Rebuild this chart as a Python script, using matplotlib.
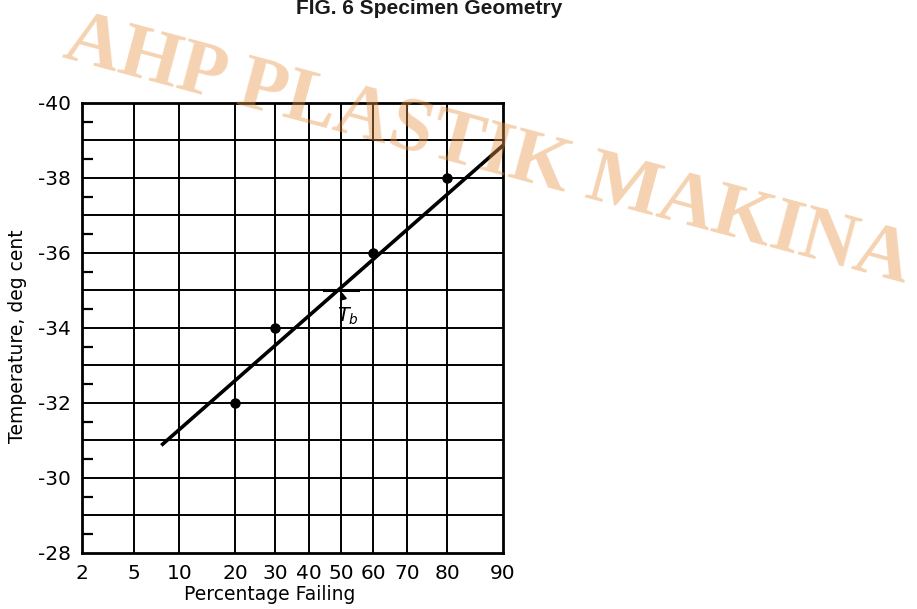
import numpy as np
import matplotlib
matplotlib.use("Agg")
import matplotlib.pyplot as plt
from statistics import NormalDist

# ---- data ----
pct_ticks = [2, 5, 10, 20, 30, 40, 50, 60, 70, 80, 90]
pct_tick_labels = ["2", "5", "10", "20", "30", "40", "50", "60", "70", "80", "90"]
temp_ticks = [-40, -38, -36, -34, -32, -30, -28]
temp_tick_labels = ["-40", "-38", "-36", "-34", "-32", "-30", "-28"]
points_pct = [20, 30, 60, 80]
points_temp = [-32, -34, -36, -38]
fit_pct = [7.7, 90]
fit_temp = [-30.87, -38.87]
tb_pct = 50
tb_temp = -35
tb_bar_pct = [44.6, 55.4]

nd = NormalDist()
_inv_cdf = np.vectorize(nd.inv_cdf, otypes=[float])
_cdf = np.vectorize(nd.cdf, otypes=[float])

def fwd(p):
    p = np.asarray(p, dtype=float)
    q = np.clip(p / 100.0, 1e-6, 1 - 1e-6)
    return _inv_cdf(q)

def inv(z):
    z = np.asarray(z, dtype=float)
    return _cdf(z) * 100.0

fig = plt.figure(figsize=(9.17, 6.09), dpi=100)
ax = fig.add_axes([82/917, 1 - 553/609, (503 - 82)/917, (553 - 103)/609])
ax.set_xscale('function', functions=(fwd, inv))
ax.set_xlim(2, 90)
ax.set_ylim(-28, -40)

# grid
for p in pct_ticks[1:-1]:
    ax.axvline(p, color='black', lw=1.4, zorder=1)
for t in np.arange(-39, -28, 1):
    ax.axhline(t, color='black', lw=1.4, zorder=1)

for s in ax.spines.values():
    s.set_linewidth(2)
    s.set_color('black')

ax.set_xticks(pct_ticks)
ax.set_xticklabels(pct_tick_labels)
ax.xaxis.set_minor_locator(matplotlib.ticker.NullLocator())
ax.set_yticks(temp_ticks)
ax.set_yticklabels(temp_tick_labels)
ax.set_yticks(np.arange(-39.5, -28, 1), minor=True)
ax.tick_params(axis='both', which='major', length=0, labelsize=14.5, pad=8)
ax.tick_params(axis='y', which='minor', direction='in', length=8, width=1.6, left=True)

# fit line and points
ax.plot(fit_pct, fit_temp, color='black', lw=2.6, zorder=3, solid_capstyle='butt')
ax.plot(points_pct, points_temp, 'o', color='black', ms=6.5, zorder=4)

# Tb marker
ax.plot(tb_bar_pct, [tb_temp, tb_temp], color='black', lw=2.2, zorder=3)
ax.annotate(r'$T_b$', xy=(tb_pct, tb_temp), xytext=(52, -34.3),
            fontsize=14, ha='center', va='center',
            arrowprops=dict(arrowstyle='-|>', color='black', lw=1.5,
                            shrinkA=6, shrinkB=1, mutation_scale=9))

ax.set_xlabel('Percentage Failing', fontsize=13.5)
ax.xaxis.set_label_coords((270 - 82) / 421, -(585 - 553) / 450)
ax.set_ylabel('Temperature, deg cent', fontsize=13.5)
ax.yaxis.set_label_coords((27 - 82) / 421, (553 - 336) / 450)

fig.text(429/917, 1 - 14/609, 'FIG. 6 Specimen Geometry', ha='center', va='baseline',
         fontsize=15, fontweight='bold', family='Liberation Sans', color='#1a1a1a')

# watermark
fig.text(483/917, 1 - 170/609, 'AHP PLASTIK MAKINA', ha='center', va='baseline',
         rotation=-15, rotation_mode='anchor', fontsize=56, fontweight='bold',
         family='Liberation Serif',
         color=(232/255, 150/255, 70/255), alpha=0.42, zorder=10)

fig.savefig('out.png', dpi=100)
